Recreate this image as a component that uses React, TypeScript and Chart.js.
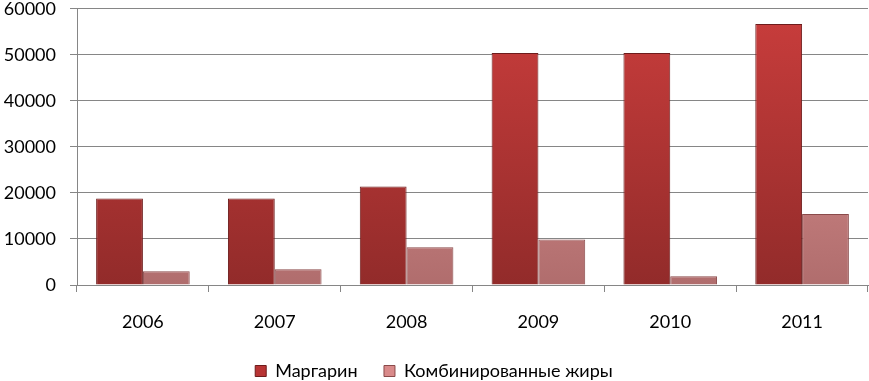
import React, { useEffect, useRef } from "react";
import { Chart, registerables } from "chart.js";

Chart.register(...registerables);

const categories = ["2006", "2007", "2008", "2009", "2010", "2011"];
const margarine = [18800, 18800, 21400, 50400, 50400, 56700];
const combinedFats = [3000, 3400, 8200, 9900, 1900, 15400];
const seriesNames = ["Маргарин", "Комбинированные жиры"];
const yMax = 60000;
const yStep = 10000;

function vGrad(ctx: any, top: string, bottom: string) {
  const chart = ctx.chart;
  const area = chart.chartArea;
  if (!area) return top;
  const g = chart.ctx.createLinearGradient(0, area.top, 0, area.bottom);
  g.addColorStop(0, top);
  g.addColorStop(1, bottom);
  return g;
}

export default function App() {
  const ref = useRef<HTMLCanvasElement | null>(null);
  useEffect(() => {
    document.body.style.margin = "0";
    const font = { family: "Lato, 'Open Sans', sans-serif", size: 18 };
    const chart = new Chart(ref.current as HTMLCanvasElement, {
      type: "bar",
      data: {
        labels: categories,
        datasets: [
          {
            label: seriesNames[0],
            data: margarine,
            backgroundColor: (c: any) => vGrad(c, "#c93d3c", "#922b2a"),
            borderColor: "#6e1c1c",
            borderWidth: 1,
            barPercentage: 1,
            categoryPercentage: 0.71,
          },
          {
            label: seriesNames[1],
            data: combinedFats,
            backgroundColor: (c: any) => vGrad(c, "#e49898", "#b06d6d"),
            borderColor: "#8a4a4a",
            borderWidth: 1,
            barPercentage: 1,
            categoryPercentage: 0.71,
          },
        ],
      },
      options: {
        responsive: false,
        animation: false,
        maintainAspectRatio: false,
        layout: { padding: { top: 0, right: 1, left: 0, bottom: 0 } },
        plugins: {
          legend: {
            position: "bottom",
            labels: {
              font,
              color: "#000",
              boxWidth: 11,
              boxHeight: 11,
              padding: 8,
              generateLabels: (ch: any) =>
                ch.data.datasets.map((d: any, i: number) => ({
                  text: i === 0 ? d.label + "    " : d.label,
                  fillStyle: i === 0 ? "#b83434" : "#d98a8a",
                  strokeStyle: i === 0 ? "#6e1c1c" : "#8a4a4a",
                  lineWidth: 1,
                  datasetIndex: i,
                  fontColor: "#000",
                })),
            },
          },
          tooltip: { enabled: false },
        },
        scales: {
          x: {
            grid: { display: true, drawOnChartArea: false, drawTicks: true, tickLength: 7, color: "#868686", offset: true },
            border: { color: "#868686" },
            ticks: { font, color: "#000", padding: 19 },
            afterFit: (s: any) => {
              s.height = 69;
            },
          },
          y: {
            min: 0,
            max: yMax,
            ticks: { stepSize: yStep, font, color: "#000", padding: 14, callback: (v: any) => String(v) },
            grid: { color: "#868686", tickLength: 7 },
            border: { color: "#868686" },
            afterFit: (s: any) => {
              s.width = 77;
            },
          },
        },
      },
    } as any);
    return () => chart.destroy();
  }, []);
  return (
    <div style={{ width: 869, height: 381, overflow: "hidden" }}>
      <canvas ref={ref} width={869} height={406} style={{ display: "block", marginTop: -16 }} />
    </div>
  );
}
